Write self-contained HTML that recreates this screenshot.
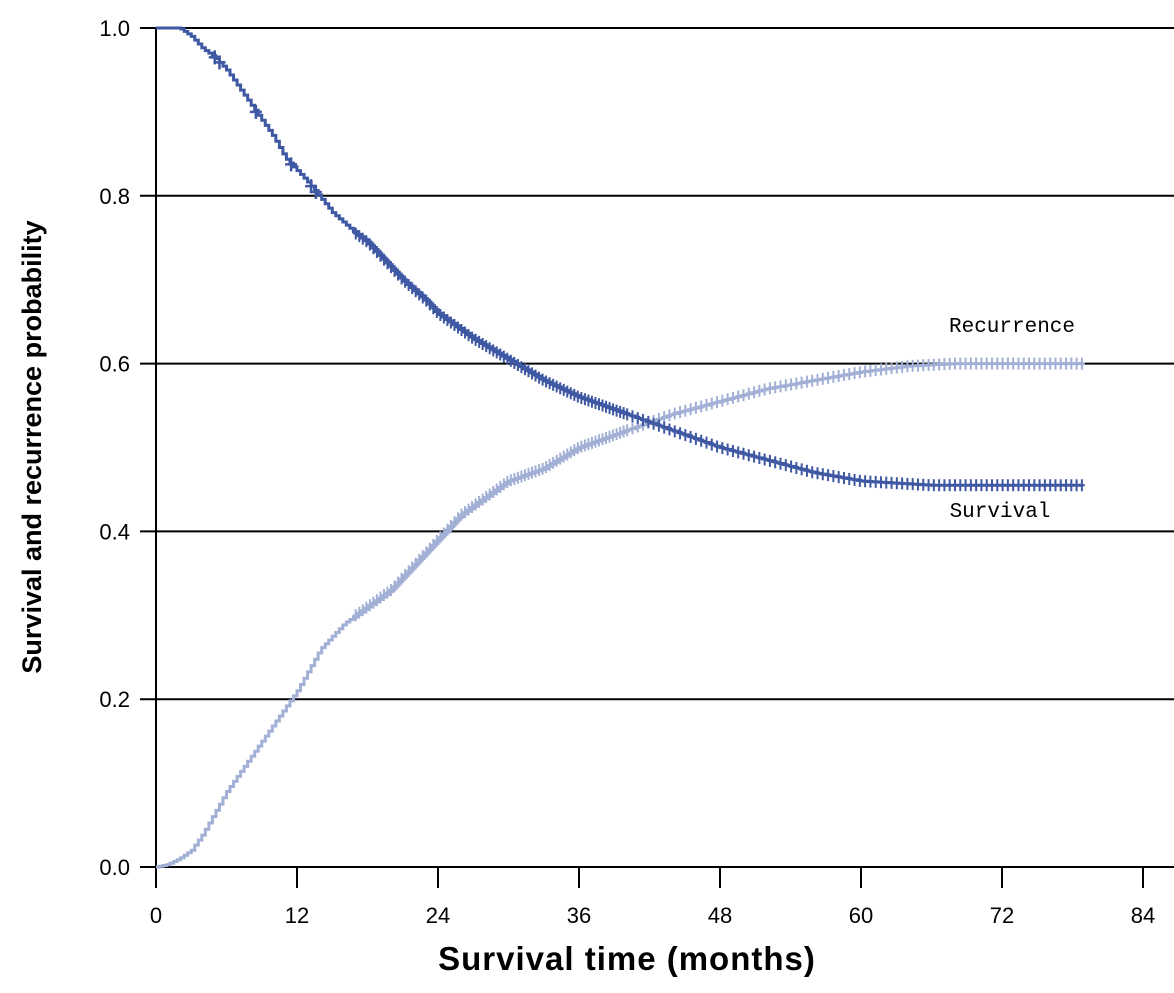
<!DOCTYPE html>
<html><head><meta charset="utf-8"><style>
body{margin:0;background:#fff}
svg text{font-family:"Liberation Sans",sans-serif}
</style></head><body>
<svg id="c" width="1174" height="988"></svg>
<script>
const xTicks=[0,12,24,36,48,60,72,84];
const yTicks=[0.0,0.2,0.4,0.6,0.8,1.0];
const survT=[0,2,3,4,5,6,8,10,11,13,15,17,18,20,21,23,24,27,30,33,36,40,44,48,52,56,60,66,79];
const survV=[1,1,0.99,0.975,0.965,0.95,0.91,0.87,0.845,0.815,0.78,0.755,0.745,0.715,0.70,0.675,0.66,0.63,0.605,0.58,0.56,0.54,0.52,0.50,0.485,0.47,0.46,0.455,0.455];
const recT=[0,1,2,3,4,5,6,8,10,12,14,16,18,20,22,24,26,28,30,33,36,40,44,48,52,56,60,64,68,79];
const recV=[0,0.003,0.01,0.02,0.04,0.065,0.09,0.13,0.17,0.21,0.26,0.29,0.31,0.33,0.36,0.39,0.42,0.44,0.46,0.475,0.50,0.52,0.54,0.555,0.57,0.58,0.59,0.597,0.60,0.60];
const X=t=>156+t*(1143-156)/84;
const Y=v=>867-v*(867-28);
const svg=document.getElementById('c');const NS='http://www.w3.org/2000/svg';
function el(tag,a,txt){const e=document.createElementNS(NS,tag);for(const k in a)e.setAttribute(k,a[k]);if(txt!==undefined)e.textContent=txt;svg.appendChild(e);return e;}
yTicks.forEach(v=>{
 const g=el('line',{x1:140,x2:1174,y1:Y(v),y2:Y(v),stroke:'#000','stroke-width':2});
 
 
 const t=el('text',{x:130,y:Y(v)+8,'text-anchor':'end','font-size':22},v.toFixed(1));
 
 
});
const ax=el('line',{x1:156,x2:156,y1:28,y2:888,stroke:'#000','stroke-width':2});


xTicks.forEach(t=>{
 const l=el('line',{x1:X(t),x2:X(t),y1:867,y2:888,stroke:'#000','stroke-width':2});
 
 
 const s=el('text',{x:X(t),y:923,'text-anchor':'middle','font-size':22},t);
 
 
});
function interp(T,V,t){for(let i=0;i<T.length-1;i++){if(t<=T[i+1]){return V[i]+(V[i+1]-V[i])*(t-T[i])/(T[i+1]-T[i]);}}return V[V.length-1];}
function stepPath(T,V){let d='',step=0.3,prev=null;for(let t=0;t<=T[T.length-1]+1e-9;t+=step){const y=Y(interp(T,V,t)),x=X(t);if(prev===null)d+='M'+x+' '+y;else d+='H'+x+'V'+y;prev=y;}return d;}
function series(T,V,color,name,start){
 const p=el('path',{d:stepPath(T,V),fill:'none',stroke:color,'stroke-width':3});
 
 
 for(let t=start;t<=T[T.length-1];t+=(t<40?0.3:0.45)){const x=X(t),y=Y(interp(T,V,t));
  const m=el('path',{d:`M${x} ${y-6}V${y+6}M${x-3} ${y}H${x+3}`,stroke:color,'stroke-width':2});
  
  }
}
series(recT,recV,'#a3b0d6','recurrence',17);
series(survT,survV,'#3f58a3','survival',17);
[5,5.4,8.5,11.5,13.2,13.6].forEach(t=>{const x=X(t),y=Y(interp(survT,survV,t));
 const m=el('path',{d:`M${x} ${y-7}V${y+7}M${x-6} ${y}H${x+6}`,stroke:'#3f58a3','stroke-width':2.5});
 
 });
const r=el('text',{x:1012,y:332,'text-anchor':'middle','font-size':21,style:'font-family:"Liberation Mono",monospace'},'Recurrence');


const s=el('text',{x:1000,y:517,'text-anchor':'middle','font-size':21,style:'font-family:"Liberation Mono",monospace'},'Survival');


const xt=el('text',{x:627,y:970,'text-anchor':'middle','font-size':33,'font-weight':'bold','letter-spacing':'1'},'Survival  time (months)');


const yt=el('text',{x:0,y:0,'text-anchor':'middle','font-size':27,'font-weight':'bold',transform:'translate(41,447) rotate(-90)'},'Survival and recurrence probability');


</script>
</body></html>
